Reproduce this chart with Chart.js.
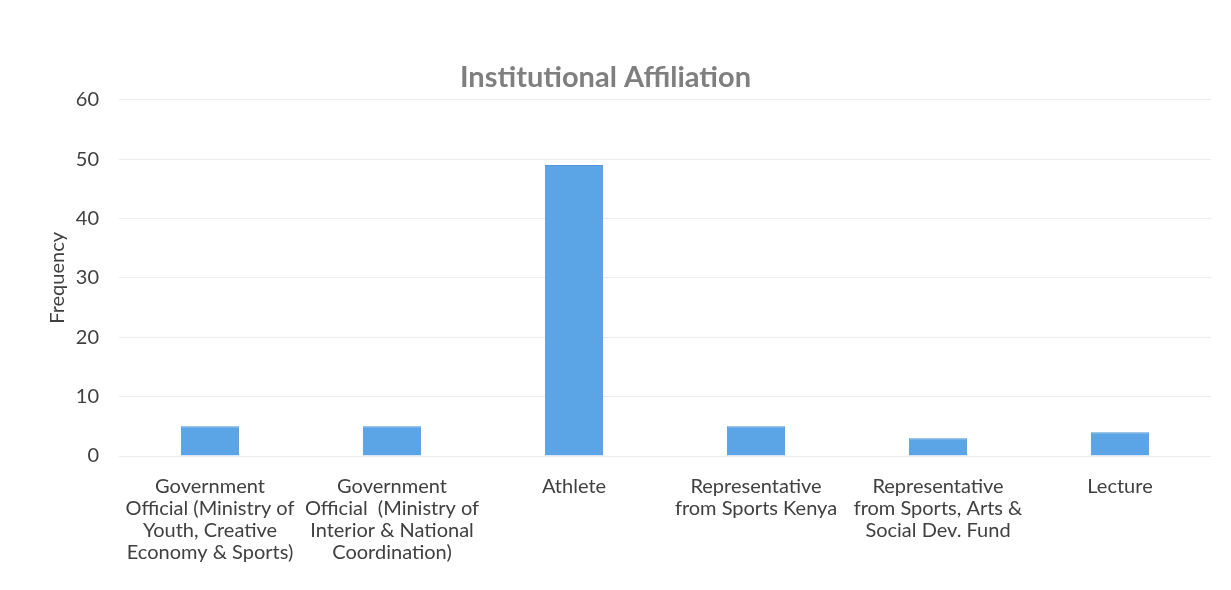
<!DOCTYPE html>
<html>
<head>
<meta charset="utf-8">
<script src="https://cdn.jsdelivr.net/npm/chart.js@4"></script>
<style>
  html, body { margin: 0; padding: 0; background: #fff; }
  #wrap { width: 1231px; height: 590px; }
</style>
</head>
<body>
<div id="wrap"><canvas id="affChart" width="1231" height="590"></canvas></div>
<script>
// categories (multi-line labels as in the original)
var categories = [
  ["Government", "Official (Ministry of", "Youth, Creative", "Economy & Sports)"],
  ["Government", "Official  (Ministry of", "Interior & National", "Coordination)"],
  ["Athlete"],
  ["Representative", "from Sports Kenya"],
  ["Representative", "from Sports, Arts &", "Social Dev. Fund"],
  ["Lecture"]
];
var frequency = [5, 5, 49, 5, 3, 4];
var yTicks = [0, 10, 20, 30, 40, 50, 60];

var fontFamily = "Lato, 'Open Sans', sans-serif";

var ctx = document.getElementById("affChart").getContext("2d");
var affChart = new Chart(ctx, {
  type: "bar",
  data: {
    labels: categories,
    datasets: [
      {
        label: "Frequency",
        data: frequency,
        backgroundColor: "#5ba4e6",
        borderColor: "#4f97da",
        borderWidth: 1,
        categoryPercentage: 1,
        barPercentage: 0.32,
      },
    ],
  },
  options: {
    responsive: false,
    animation: false,
    layout: { padding: { left: 0, right: 20, top: 0, bottom: 0 } },
    plugins: {
      legend: { display: false },
      tooltip: { enabled: false },
      title: {
        display: true,
        text: "Institutional Affiliation",
        color: "#7f7f7f",
        font: { family: fontFamily, size: 29, weight: "bold" },
        padding: { top: 60, bottom: 5 },
      },
    },
    scales: {
      y: {
        min: 0,
        max: 60,
        afterBuildTicks: function (axis) {
          axis.ticks = yTicks.map(function (v) { return { value: v }; });
        },
        afterFit: function (axis) { axis.width = 119; },
        border: { display: false },
        grid: { color: "#ececec", drawTicks: false },
        ticks: {
          color: "#404040",
          padding: 20,
          font: { family: fontFamily, size: 20 },
        },
        title: {
          display: true,
          text: "Frequency",
          color: "#404040",
          font: { family: fontFamily, size: 20 },
          padding: { top: 46, bottom: 0 },
        },
      },
      x: {
        afterFit: function (axis) { axis.height = 134; },
        border: { display: false },
        grid: { display: false },
        ticks: {
          color: "#404040",
          padding: 12,
          maxRotation: 0,
          autoSkip: false,
          font: { family: fontFamily, size: 20, lineHeight: 1.1 },
        },
      },
    },
  },
});
</script>
</body>
</html>
